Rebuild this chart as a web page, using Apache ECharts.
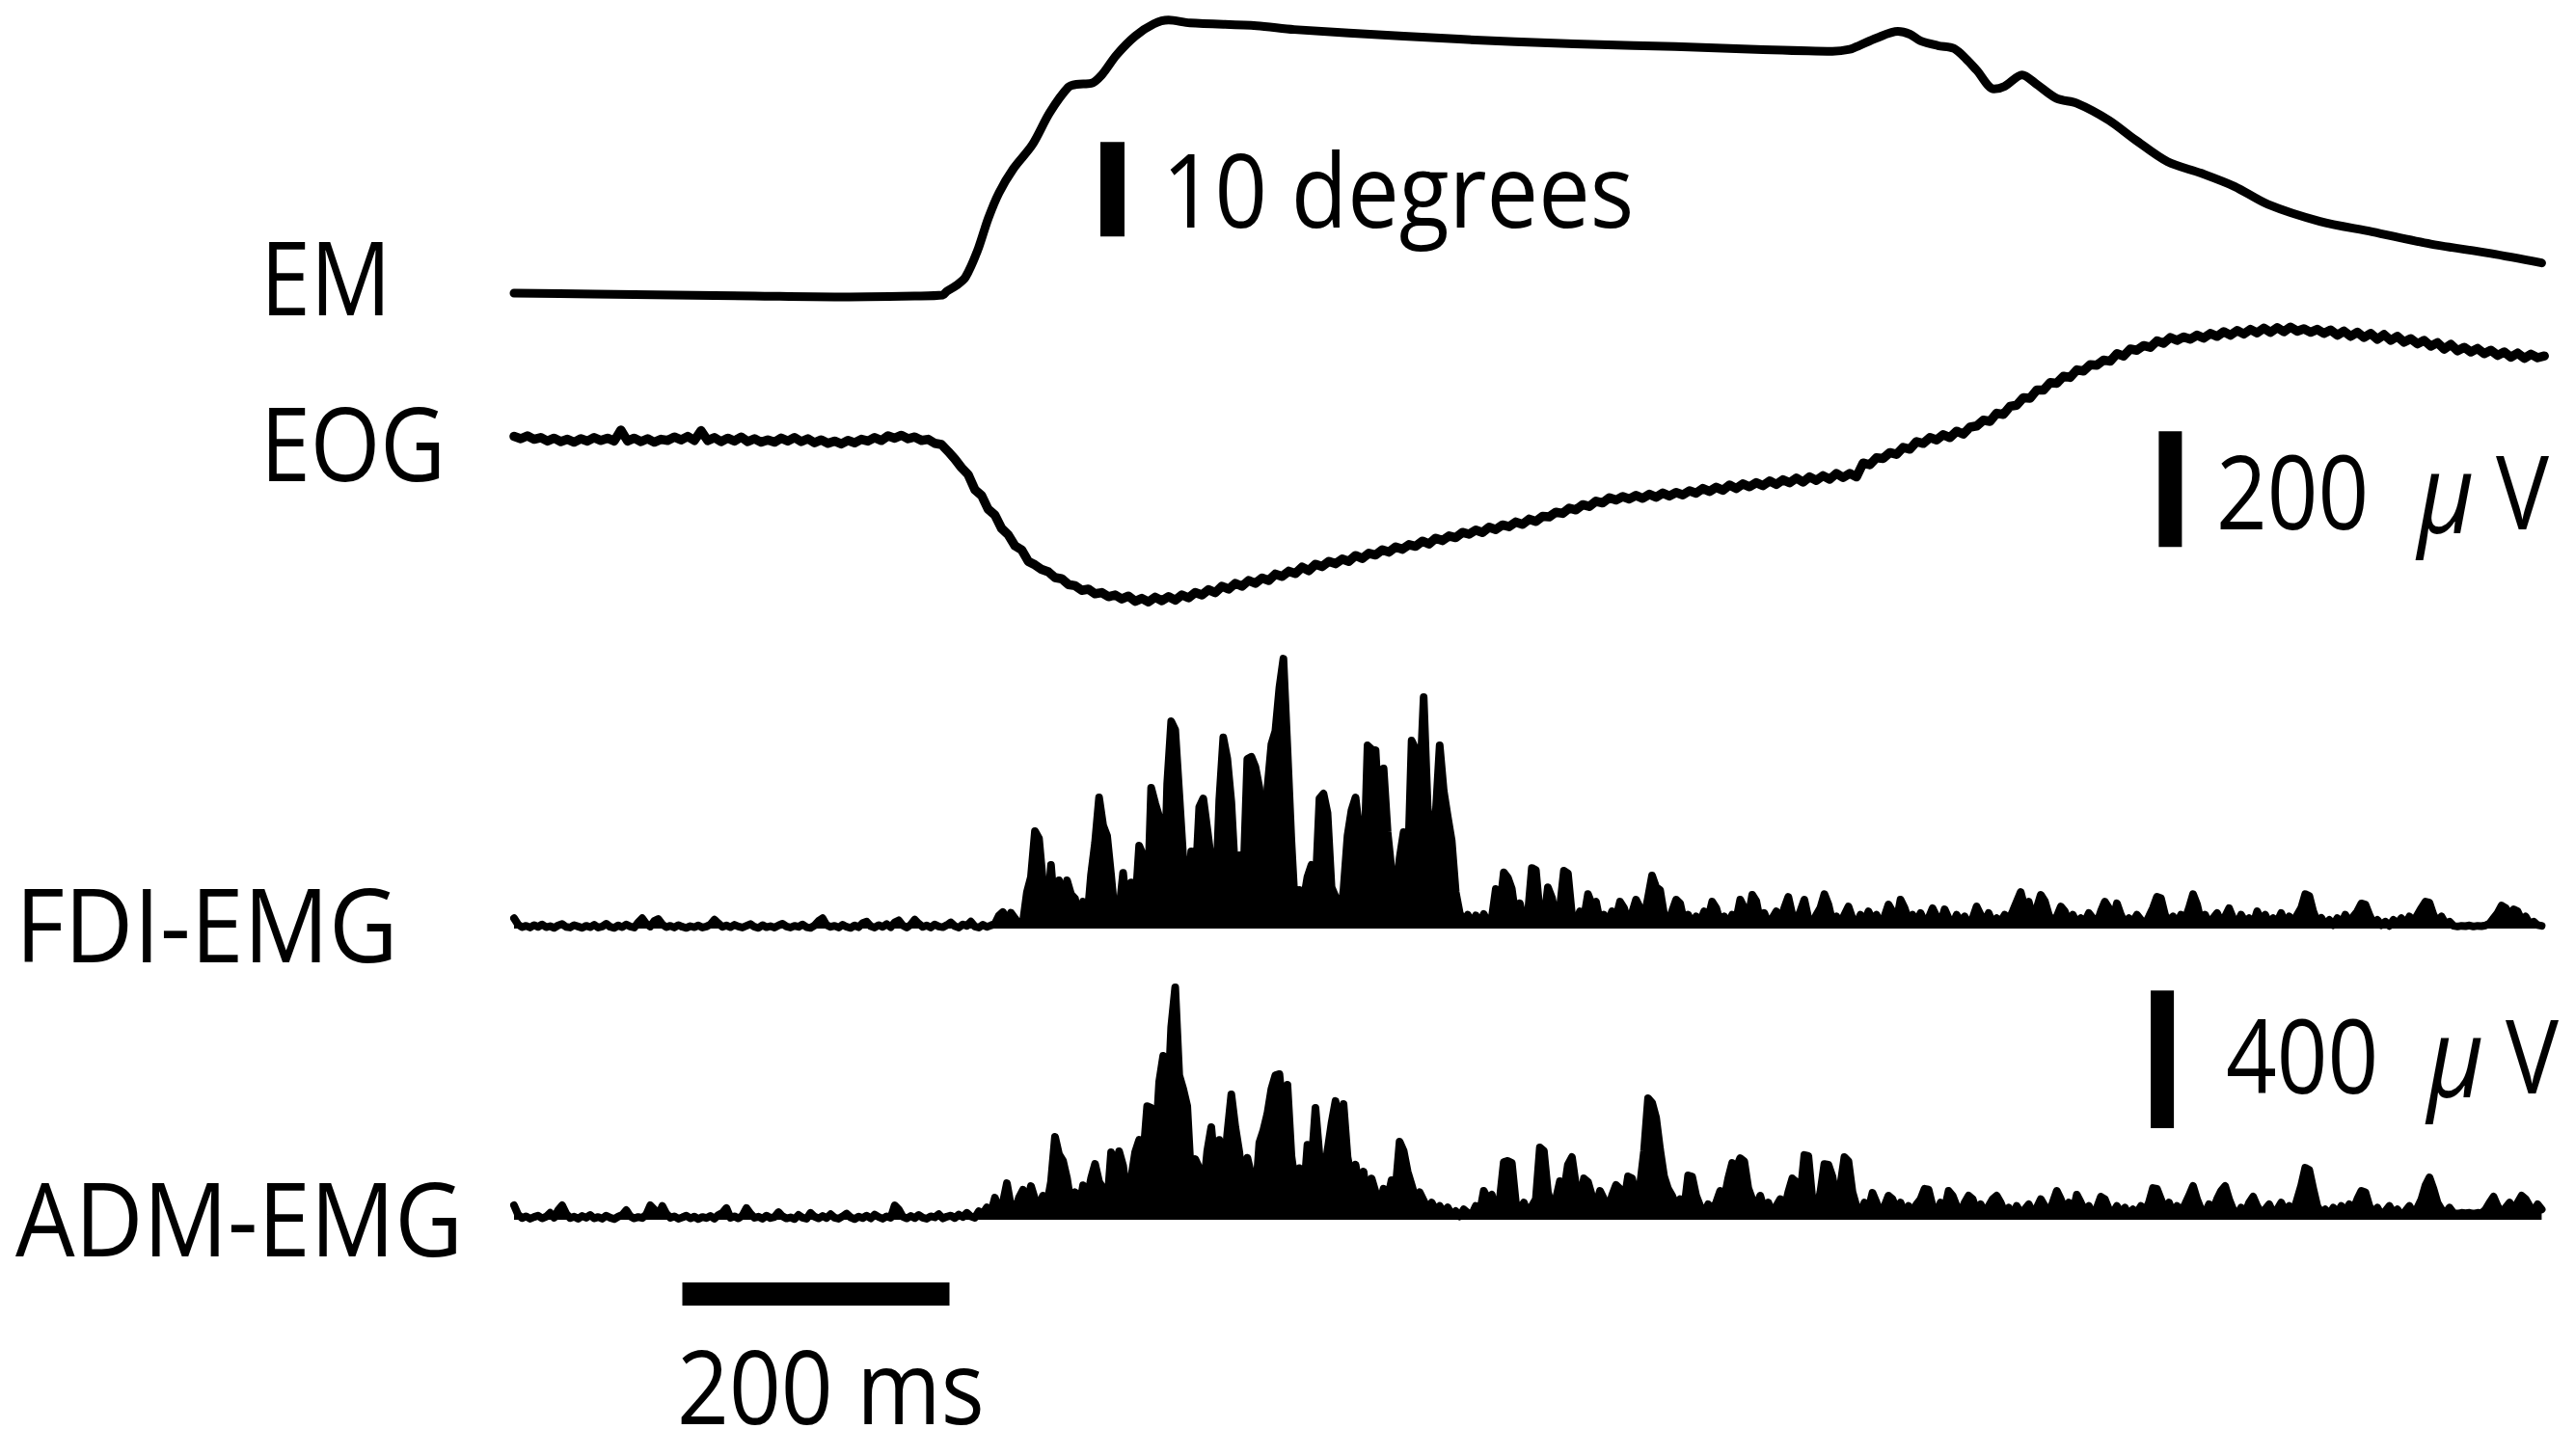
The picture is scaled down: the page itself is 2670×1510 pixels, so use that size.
<!DOCTYPE html>
<html>
<head>
<meta charset="utf-8">
<script src="https://cdn.jsdelivr.net/npm/echarts/dist/echarts.min.js"></script>
<style>
html,body{margin:0;padding:0;background:#ffffff;}
#c{width:2670px;height:1510px;}
</style>
</head>
<body>
<div id="c"></div>
<script>
// ---------------- data ----------------
// Eye movement (degrees) at irregular time points (ms)
const emTime = [0, 60, 120, 180, 240, 300, 321, 324, 331, 338, 347, 355, 363, 374, 388, 401, 415, 421, 432, 440, 451, 465, 479, 490, 506, 556, 584, 666, 749, 838, 869, 930, 987, 1000, 1007, 1020, 1036, 1045, 1053, 1066, 1078, 1087, 1095, 1108, 1116, 1129, 1140, 1155, 1170, 1194, 1214, 1238, 1263, 1288, 1313, 1352, 1391, 1435, 1480, 1518];
const emDeg = [0.2, 0.1, 0, -0.1, -0.2, -0.1, 0, 0.4, 1.0, 1.9, 4.7, 8.1, 10.8, 13.4, 15.9, 19.3, 22.0, 22.3, 22.4, 23.3, 25.4, 27.4, 28.7, 29.1, 28.8, 28.5, 28.1, 27.4, 26.8, 26.4, 26.3, 26.0, 25.8, 26.0, 26.4, 27.2, 27.9, 27.6, 26.9, 26.4, 26.1, 25.0, 23.8, 21.8, 22.1, 23.3, 22.3, 20.8, 20.3, 18.5, 16.4, 14.1, 12.9, 11.5, 9.6, 7.8, 6.7, 5.4, 4.4, 3.4];

// EOG (uV), one value every 5 ms from 0 ms
const eogStepMs = 5;
const eogUv = [
  4, 0, 5, -1, 2, -4, 1, -5, -1, -6, 0, -4, 2, -3, 1, -4, 15, -4, 1, -5,
  0, -6, -1, -3, 3, -2, 4, -3, 14, -3, 2, -5, 1, -4, 3, -5, 0, -6, -2, -6,
  1, -4, 2, -5, 0, -7, -2, -8, -4, -9, -3, -7, -1, -4, 2, -3, 5, 1, 6, 0,
  3, -3, -1, -8, -10, -22, -35, -50, -62, -88, -98, -122, -132, -155, -166, -185, -192, -212, -218, -226,
  -230, -240, -242, -252, -254, -262, -260, -268, -266, -273, -270, -277, -272, -281, -276, -282, -274, -280, -273, -279,
  -270, -275, -266, -270, -261, -266, -255, -260, -250, -255, -245, -250, -241, -245, -234, -238, -229, -233, -222, -228,
  -217, -221, -212, -216, -208, -212, -202, -207, -198, -201, -192, -196, -187, -191, -183, -186, -177, -182, -172, -176,
  -168, -171, -162, -165, -158, -162, -153, -157, -149, -152, -144, -148, -139, -143, -134, -135, -127, -129, -120, -123,
  -114, -117, -108, -111, -102, -106, -100, -104, -98, -103, -96, -101, -94, -99, -93, -97, -90, -94, -86, -91,
  -84, -89, -80, -86, -78, -83, -76, -81, -73, -79, -71, -76, -68, -75, -66, -72, -64, -70, -60, -67,
  -60, -66, -42, -45, -33, -34, -24, -27, -15, -18, -5, -8, 2, -2, 7, 2, 13, 8, 20, 22,
  32, 30, 44, 42, 56, 58, 71, 70, 84, 84, 97, 96, 108, 106, 119, 117, 128, 127, 136, 134,
  147, 143, 155, 153, 161, 158, 169, 165, 175, 170, 176, 172, 179, 174, 182, 177, 185, 179, 187, 181,
  189, 183, 191, 184, 192, 185, 193, 186, 190, 184, 189, 182, 188, 179, 186, 177, 184, 175, 182, 172,
  180, 170, 177, 167, 173, 164, 170, 160, 166, 155, 163, 152, 158, 150, 156, 147, 153, 144, 150, 141,
  148, 139, 146, 140, 143
];

// Rectified EMG (uV), one value every 3 ms from 0 ms
const emgStepMs = 3;
const fdiUv = [
  30, 12, 4, 8, 3, 10, 5, 12, 4, 7, 2, 9, 13, 5, 3, 10, 6, 2, 8, 4,
  11, 3, 6, 14, 5, 2, 9, 4, 12, 6, 3, 18, 30, 14, 6, 22, 28, 12, 4, 8,
  3, 10, 5, 2, 7, 4, 9, 3, 6, 12, 26, 15, 5, 9, 4, 11, 6, 3, 8, 13,
  5, 2, 10, 4, 7, 3, 9, 14, 6, 3, 8, 5, 12, 4, 2, 9, 22, 30, 10, 5,
  8, 3, 11, 5, 2, 9, 4, 16, 20, 7, 3, 10, 5, 13, 4, 18, 24, 9, 3, 11,
  26, 14, 5, 9, 3, 12, 6, 4, 10, 18, 7, 3, 12, 8, 20, 6, 3, 11, 5, 9,
  14, 38, 48, 22, 46, 30, 12, 18, 106, 150, 283, 262, 134, 20, 185, 40, 140, 70, 140, 100,
  87, 30, 78, 20, 157, 250, 381, 300, 269, 154, 30, 50, 162, 40, 134, 60, 241, 213, 40, 409,
  364, 325, 15, 420, 602, 577, 392, 204, 60, 224, 120, 353, 378, 289, 196, 60, 373, 555, 493, 367,
  150, 213, 140, 493, 499, 470, 409, 200, 406, 535, 574, 700, 784, 521, 252, 36, 112, 80, 150, 185,
  112, 378, 392, 336, 120, 92, 20, 112, 269, 344, 381, 280, 140, 532, 521, 518, 300, 465, 280, 168,
  80, 204, 280, 150, 546, 521, 400, 672, 353, 238, 331, 532, 400, 325, 255, 106, 45, 20, 40, 15,
  38, 12, 42, 20, 30, 115, 60, 163, 148, 115, 30, 73, 20, 40, 176, 170, 40, 20, 120, 90,
  30, 60, 168, 160, 40, 20, 50, 30, 100, 70, 78, 20, 40, 15, 50, 30, 78, 60, 20, 45,
  84, 60, 30, 90, 154, 120, 112, 40, 20, 50, 84, 73, 20, 40, 15, 35, 20, 50, 30, 78,
  60, 20, 35, 15, 40, 25, 84, 60, 30, 98, 80, 20, 45, 15, 30, 50, 20, 60, 92, 40,
  25, 50, 84, 30, 15, 40, 60, 100, 70, 20, 35, 15, 40, 64, 30, 12, 40, 20, 50, 25,
  40, 15, 35, 70, 50, 20, 84, 60, 25, 40, 15, 45, 20, 30, 59, 35, 15, 56, 30, 12,
  40, 20, 35, 15, 30, 64, 40, 20, 45, 15, 30, 20, 40, 25, 50, 78, 106, 60, 78, 30,
  60, 98, 80, 40, 20, 35, 64, 50, 20, 40, 15, 30, 20, 45, 30, 15, 50, 78, 60, 25,
  73, 40, 15, 30, 20, 40, 25, 12, 35, 60, 92, 88, 40, 20, 35, 15, 40, 25, 60, 100,
  70, 20, 40, 15, 30, 45, 20, 35, 59, 30, 15, 40, 20, 30, 12, 50, 25, 40, 15, 30,
  20, 45, 15, 35, 20, 40, 60, 100, 95, 50, 20, 31, 12, 25, 10, 30, 15, 40, 20, 35,
  50, 73, 70, 40, 15, 25, 10, 20, 8, 25, 15, 30, 12, 35, 20, 40, 60, 78, 75, 40,
  20, 35, 15, 20, 8, 6, 8, 7, 9, 6, 8, 7, 9, 15, 30, 45, 67, 60, 40, 56,
  50, 25, 35, 15, 20, 10, 8
];
const admUv = [
  42, 15, 5, 10, 3, 8, 12, 4, 9, 20, 6, 28, 42, 18, 5, 9, 3, 11, 6, 14,
  4, 8, 3, 12, 6, 2, 9, 14, 28, 10, 4, 8, 5, 15, 42, 30, 12, 40, 18, 6,
  10, 3, 7, 12, 4, 9, 2, 8, 5, 11, 3, 14, 20, 34, 6, 10, 4, 12, 34, 18,
  6, 9, 3, 12, 5, 8, 22, 10, 4, 7, 2, 14, 6, 3, 20, 9, 4, 11, 5, 16,
  6, 3, 10, 18, 7, 2, 9, 5, 12, 4, 15, 8, 3, 10, 6, 42, 30, 9, 4, 11,
  5, 14, 6, 3, 10, 7, 16, 4, 9, 12, 5, 15, 8, 20, 10, 6, 25, 18, 36, 20,
  64, 30, 50, 106, 40, 25, 64, 87, 50, 98, 60, 40, 70, 45, 110, 241, 190, 171, 120, 45,
  80, 30, 100, 60, 120, 162, 110, 92, 40, 196, 150, 199, 157, 60, 120, 196, 232, 180, 330, 325,
  200, 400, 476, 300, 560, 675, 420, 380, 330, 112, 176, 150, 80, 200, 269, 140, 232, 120, 250, 364,
  269, 196, 73, 180, 130, 60, 224, 260, 308, 380, 420, 423, 300, 392, 185, 100, 150, 60, 218, 160,
  325, 185, 120, 200, 280, 345, 260, 336, 182, 120, 160, 92, 140, 45, 120, 80, 45, 90, 60, 115,
  90, 227, 200, 140, 101, 60, 80, 56, 30, 50, 28, 40, 20, 36, 15, 25, 10, 30, 20, 15,
  40, 20, 84, 60, 73, 30, 60, 168, 171, 165, 50, 30, 50, 20, 40, 60, 210, 200, 80, 40,
  60, 112, 80, 160, 182, 100, 60, 120, 110, 70, 40, 84, 60, 30, 70, 101, 90, 50, 126, 120,
  70, 100, 200, 353, 340, 297, 204, 126, 90, 70, 40, 60, 30, 129, 125, 70, 40, 20, 45, 30,
  50, 84, 60, 120, 165, 150, 179, 170, 92, 60, 40, 70, 30, 50, 20, 40, 60, 30, 80, 120,
  110, 70, 188, 185, 60, 30, 80, 162, 160, 126, 60, 100, 182, 170, 81, 40, 20, 50, 30, 78,
  50, 20, 40, 70, 60, 30, 50, 20, 40, 25, 45, 60, 90, 88, 40, 20, 50, 30, 84, 70,
  40, 20, 50, 70, 60, 25, 45, 20, 40, 60, 70, 50, 20, 35, 15, 40, 20, 30, 45, 20,
  35, 60, 40, 20, 50, 84, 60, 30, 50, 20, 73, 50, 25, 40, 15, 35, 67, 60, 30, 20,
  40, 20, 35, 15, 30, 20, 40, 25, 50, 92, 90, 60, 30, 50, 20, 40, 25, 45, 70, 98,
  60, 30, 20, 45, 30, 60, 84, 98, 60, 30, 15, 35, 20, 50, 67, 40, 20, 30, 45, 20,
  30, 50, 25, 40, 20, 60, 100, 151, 145, 90, 40, 20, 30, 15, 35, 20, 40, 25, 45, 30,
  60, 84, 80, 40, 20, 35, 15, 25, 40, 20, 30, 12, 25, 40, 20, 35, 60, 100, 123, 90,
  50, 30, 20, 35, 20, 18, 20, 19, 20, 18, 20, 19, 30, 50, 67, 40, 20, 35, 50, 30,
  50, 70, 60, 40, 25, 45, 30
];

// Scale bars (data units): time of the vertical bars (ms) and their value spans
const emBarTime = 448, emBarFrom = 6.2, emBarTo = 16.2;          // 10 degrees
const eogBarTime = 1240, eogBarFrom = -187, eogBarTo = 13;       // 200 uV
const emgBarTime = 1234, emgBarFrom = 266, emgBarTo = 666;       // 400 uV
const timeBarFrom = 126, timeBarTo = 326, timeBarLevel = -216;   // 200 ms

// Labels
const traceLabels = ['EM', 'EOG', 'FDI-EMG', 'ADM-EMG'];

// ---------------- layout ----------------
const X0 = 533, PX_PER_MS = 1.385, T_MAX = 1520;
const panels = [
  {base: 306, k: 9.8, min: -5, max: 31},      // EM (deg)
  {base: 455, k: 0.6, min: -320, max: 240},   // EOG (uV)
  {base: 963, k: 0.357, min: -100, max: 850}, // FDI (uV)
  {base: 1265, k: 0.357, min: -300, max: 750} // ADM (uV)
];
const grids = panels.map(p => ({
  left: X0, width: PX_PER_MS * T_MAX,
  top: p.base - p.max * p.k, height: (p.max - p.min) * p.k
}));
const xAxes = panels.map((p, i) => ({type: 'value', gridIndex: i, min: 0, max: T_MAX, show: false}));
const yAxes = panels.map((p, i) => ({type: 'value', gridIndex: i, min: p.min, max: p.max, show: false}));

const traceStyle = w => ({color: '#000', width: w, cap: 'round', join: 'round'});
const barStyle = w => ({color: '#000', width: w, cap: 'butt'});
function lineSeries(idx, data, style, smooth, filled) {
  const s = {type: 'line', xAxisIndex: idx, yAxisIndex: idx, data: data, showSymbol: false,
          symbol: 'none', smooth: smooth || false, lineStyle: style, clip: false, silent: true,
          animation: false};
  if (filled) s.areaStyle = {color: '#000', opacity: 1, origin: 'auto'};
  return s;
}

const series = [
  lineSeries(0, emTime.map((t, i) => [t, emDeg[i]]), traceStyle(9), 0.3),
  lineSeries(1, eogUv.map((v, i) => [i * eogStepMs, v]), traceStyle(9.5)),
  lineSeries(2, fdiUv.map((v, i) => [i * emgStepMs, v]), traceStyle(8), false, true),
  lineSeries(3, admUv.map((v, i) => [i * emgStepMs, v]), traceStyle(8), false, true),
  lineSeries(0, [[emBarTime, emBarFrom], [emBarTime, emBarTo]], barStyle(25)),
  lineSeries(1, [[eogBarTime, eogBarFrom], [eogBarTime, eogBarTo]], barStyle(24)),
  lineSeries(3, [[emgBarTime, emgBarFrom], [emgBarTime, emgBarTo]], barStyle(24)),
  lineSeries(3, [[timeBarFrom, timeBarLevel], [timeBarTo, timeBarLevel]], barStyle(24))
];

const FONT = '"Open Sans", "Noto Sans", sans-serif';
const FS = 106, LH = 100;
function label(text, x, y, sx) {
  return {type: 'text', x: x, y: y, scaleX: sx, silent: true,
          style: {text: text, fontSize: FS, fontFamily: FONT, fill: '#000', lineHeight: LH,
                  align: 'left', verticalAlign: 'middle', textAlign: 'left', textVerticalAlign: 'middle'}};
}
function unitLabel(num, x, y) {
  return {type: 'text', x: x, y: y, scaleX: 0.87, silent: true,
          style: {text: '{n|' + num + '}{u|μ}{v|V}', fill: '#000',
                  align: 'left', verticalAlign: 'middle', textAlign: 'left', textVerticalAlign: 'middle',
                  rich: {
                    n: {fontSize: FS, fontFamily: FONT, fill: '#000', lineHeight: LH},
                    u: {fontSize: 116, fontFamily: FONT, fontStyle: 'italic', fill: '#000', lineHeight: LH, padding: [0, 26, 0, 58]},
                    v: {fontSize: FS, fontFamily: FONT, fill: '#000', lineHeight: LH}
                  }}};
}

const graphic = [
  label(traceLabels[0], 270, 286, 0.88),
  label(traceLabels[1], 270, 458, 0.88),
  label(traceLabels[2], 16, 957, 0.93),
  label(traceLabels[3], 16, 1262, 0.92),
  label('10 degrees', 1205, 195, 0.90),
  unitLabel('200', 2298, 508),
  unitLabel('400', 2308, 1093),
  label('200 ms', 702, 1436, 0.89)
];

const chart = echarts.init(document.getElementById('c'), null, {renderer: 'svg', width: 2670, height: 1510});
chart.setOption({
  animation: false,
  backgroundColor: '#ffffff',
  grid: grids,
  xAxis: xAxes,
  yAxis: yAxes,
  series: series,
  graphic: graphic
});
</script>
</body>
</html>
